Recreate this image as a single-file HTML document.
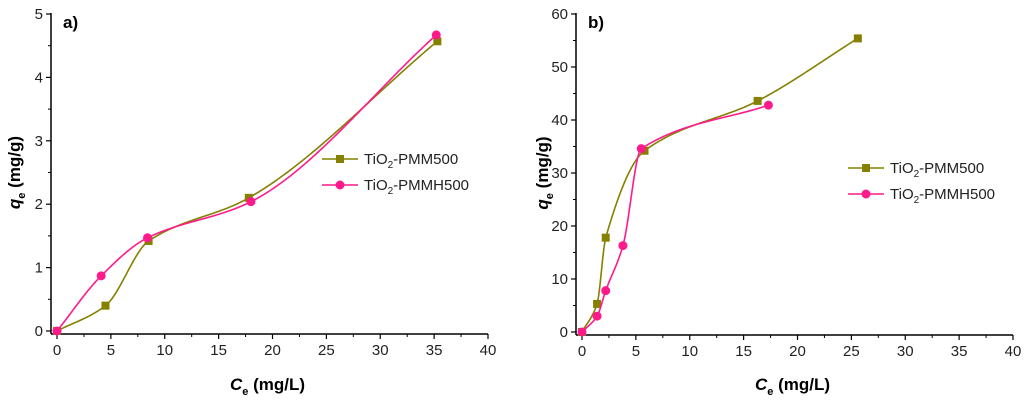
<!DOCTYPE html>
<html><head><meta charset="utf-8"><style>
body{margin:0;background:#fff;width:1024px;height:406px;overflow:hidden}
svg{font-family:"Liberation Sans",Arial,sans-serif}
</style></head><body>
<svg id="chart" width="1024" height="406" xmlns="http://www.w3.org/2000/svg"></svg>
<script>
const xTicks=[0,5,10,15,20,25,30,35,40];
const aYTicks=[0,1,2,3,4,5];
const bYTicks=[0,10,20,30,40,50,60];
const seriesNames=["TiO2-PMM500","TiO2-PMMH500"];
const aPmmX=[0,4.5,8.5,17.8,35.3];
const aPmmY=[0,0.4,1.42,2.1,4.57];
const aPmmhX=[0,4.1,8.4,18,35.2];
const aPmmhY=[0,0.87,1.47,2.04,4.67];
const bPmmX=[0,1.4,2.2,5.8,16.3,25.6];
const bPmmY=[0,5.3,17.8,34.2,43.6,55.4];
const bPmmhX=[0,1.4,2.2,3.8,5.5,17.3];
const bPmmhY=[0,3,7.8,16.3,34.6,42.8];

const NS="http://www.w3.org/2000/svg";
const svg=document.getElementById('chart');
function el(t,a,p){const e=document.createElementNS(NS,t);for(const k in a)e.setAttribute(k,a[k]);(p||svg).appendChild(e);return e;}
const OLIVE="#858000",PINK="#ff1a8c";

// monotone cubic (Fritsch-Carlson)
function monotone(xs,ys){
  const n=xs.length,d=[],m=[];
  for(let i=0;i<n-1;i++)d.push((ys[i+1]-ys[i])/(xs[i+1]-xs[i]));
  m[0]=d[0];m[n-1]=d[n-2];
  for(let i=1;i<n-1;i++)m[i]=(d[i-1]*d[i]<=0)?0:2/(1/d[i-1]+1/d[i]);
  return x=>{let i=0;while(i<n-2&&x>xs[i+1])i++;const h=xs[i+1]-xs[i],t=(x-xs[i])/h;
    const h00=2*t*t*t-3*t*t+1,h10=t*t*t-2*t*t+t,h01=-2*t*t*t+3*t*t,h11=t*t*t-t*t;
    return h00*ys[i]+h10*h*m[i]+h01*ys[i+1]+h11*h*m[i+1];};
}

function panel(o){
  const g=el('g',{});
  
  
  const X=v=>o.x0+(o.x1-o.x0)*v/40;
  const Y=v=>o.y0-(o.y0-o.y1)*v/o.ymax;
  const axisY=o.y0+3;
  const xa=el('line',{x1:o.ax,y1:axisY,x2:o.x1,y2:axisY,stroke:'#000','stroke-width':1.5},g);
  
  const ya=el('line',{x1:o.ax,y1:o.y1-1,x2:o.ax,y2:axisY,stroke:'#000','stroke-width':1.5},g);
  
  xTicks.forEach((t,i)=>{
    el('line',{x1:X(t),y1:axisY,x2:X(t),y2:axisY+5,stroke:'#000','stroke-width':1.2},g);
    if(i<xTicks.length-1) el('line',{x1:X(t+2.5),y1:axisY,x2:X(t+2.5),y2:axisY+3,stroke:'#000','stroke-width':1},g);
    const tx=el('text',{x:X(t),y:axisY+21,'text-anchor':'middle','font-size':15,fill:'#222'},g);
    tx.textContent=t;
  });
  o.yTicks.forEach((t,i)=>{
    el('line',{x1:o.ax-5,y1:Y(t),x2:o.ax,y2:Y(t),stroke:'#000','stroke-width':1.2},g);
    if(i<o.yTicks.length-1){const m=(t+o.yTicks[i+1])/2;el('line',{x1:o.ax-3,y1:Y(m),x2:o.ax,y2:Y(m),stroke:'#000','stroke-width':1},g);}
    const tx=el('text',{x:o.ax-8,y:Y(t)+5,'text-anchor':'end','font-size':15,fill:'#222'},g);
    tx.textContent=t;
  });
  const xt=el('text',{x:(o.x0+o.x1)/2-5,y:390,'text-anchor':'middle','font-size':17,'font-weight':'bold'},g);
  xt.innerHTML='<tspan font-style="italic">C</tspan><tspan font-size="11" dy="5">e</tspan><tspan dy="-5"> (mg/L)</tspan>';
  
  const yt=el('text',{x:0,y:0,'text-anchor':'middle','font-size':17,'font-weight':'bold',transform:`translate(${o.ytx},${(o.y0+o.y1)/2}) rotate(-90)`},g);
  yt.innerHTML='<tspan font-style="italic">q</tspan><tspan font-size="11" dy="5">e</tspan><tspan dy="-5"> (mg/g)</tspan>';
  
  const lb=el('text',{x:o.ax+12,y:o.y1+14,'font-size':17,'font-weight':'bold'},g);
  lb.textContent=o.label;
  o.series.forEach((s,si)=>{
    const f=monotone(s.x,s.y);
    const xmax=s.x[s.x.length-1];let d='';
    for(let k=0;k<=200;k++){const xv=xmax*k/200;d+=(k?'L':'M')+X(xv).toFixed(2)+','+Y(f(xv)).toFixed(2);}
    const p=el('path',{d:d,fill:'none',stroke:s.c,'stroke-width':1.6},g);
    
    s.x.forEach((xv,i)=>{
      const q=[X(xv),Y(s.y[i])];let m;
      if(s.m==='sq') m=el('rect',{x:q[0]-4,y:q[1]-4,width:8,height:8,fill:s.c},g);
      else m=el('circle',{cx:q[0],cy:q[1],r:4.5,fill:s.c},g);
      
    });
    const ly=o.legY+si*26;
    const lg=el('g',{},g);
    
    el('line',{x1:o.legX,y1:ly,x2:o.legX+36,y2:ly,stroke:s.c,'stroke-width':1.6},lg);
    if(s.m==='sq') el('rect',{x:o.legX+14,y:ly-4,width:8,height:8,fill:s.c},lg);
    else el('circle',{cx:o.legX+18,cy:ly,r:4.5,fill:s.c},lg);
    const t=el('text',{x:o.legX+42,y:ly+5,'font-size':15,fill:'#222'},lg);
    const nm=seriesNames[si];
    t.innerHTML='TiO<tspan font-size="10" dy="4">2</tspan><tspan dy="-4">'+nm.slice(4)+'</tspan>';
  });
}
panel({name:'panel-a',label:'a)',x0:57,x1:488,ax:51,y0:331,y1:14,ymax:5,yTicks:aYTicks,ytx:20,legX:322,legY:159,
  series:[{x:aPmmX,y:aPmmY,c:OLIVE,m:'sq'},{x:aPmmhX,y:aPmmhY,c:PINK,m:'ci'}]});
panel({name:'panel-b',label:'b)',x0:582,x1:1013,ax:576,y0:332,y1:14,ymax:60,yTicks:bYTicks,ytx:548,legX:848,legY:168,
  series:[{x:bPmmX,y:bPmmY,c:OLIVE,m:'sq'},{x:bPmmhX,y:bPmmhY,c:PINK,m:'ci'}]});
</script>
</body></html>
